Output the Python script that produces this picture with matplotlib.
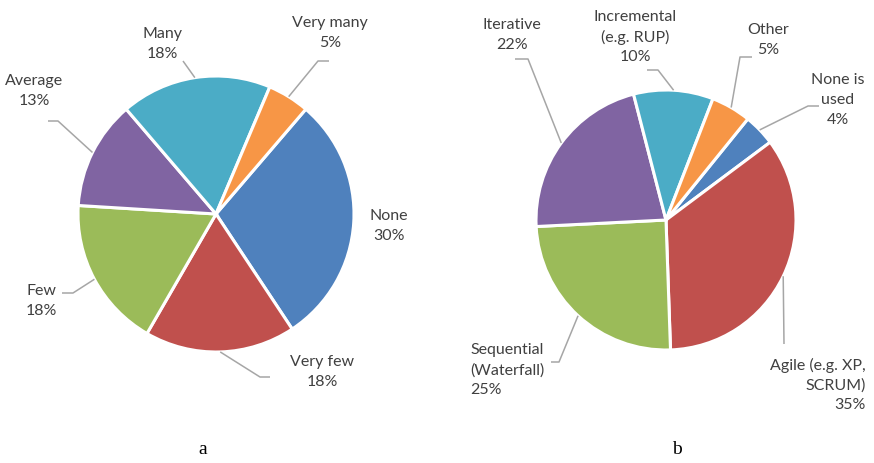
"""plot.py"""

import matplotlib
matplotlib.use("Agg")
import matplotlib.pyplot as plt
import numpy as np

W, H = 874, 463

# (a) amount of documentation
usage_labels = ["None", "Very few", "Few", "Average", "Many", "Very many"]
usage_values = [30, 18, 18, 13, 18, 5]

# (b) development process used
method_labels = ["None is\nused", "Agile (e.g. XP,\nSCRUM)", "Sequential\n(Waterfall)",
                 "Iterative", "Incremental\n(e.g. RUP)", "Other"]
method_values = [4, 35, 25, 22, 10, 5]

colors = ["#4F81BD", "#C0504D", "#9BBB59", "#8064A2", "#4BACC6", "#F79646"]

# label placement in pixels (top origin): text x, text y, alignment, leader elbows
usage_layout = [
    (389, 226, "center", []),
    (322, 372, "center", [(270, 377), (260, 377)]),
    (41, 301, "center", [(62, 293), (73, 293)]),
    (34, 91, "center", [(48, 121), (58, 121)]),
    (162, 44, "center", [(183, 61)]),
    (330, 33, "center", [(329, 61), (318, 61)]),
]
method_layout = [
    (838, 100, "center", [(819, 106), (808, 106)]),
    (866, 385, "right", [(784, 344)]),
    (470, 370, "left", [(551, 362), (559, 362)]),
    (512, 35, "center", [(515, 59), (528, 59)]),
    (635, 37, "center", [(647, 70), (658, 70)]),
    (768, 40, "center", [(752, 57), (740, 57)]),
]

TEXT = "#404040"
LEADER = "#A6A6A6"
FONT = "Lato"


def draw_pie(ax, values, labels, layout, center, radius, startangle):
    cx, cy = center[0], H - center[1]
    wedges, _ = ax.pie(values, colors=colors, startangle=startangle,
                       counterclock=False, center=(cx, cy), radius=radius,
                       wedgeprops=dict(edgecolor="white", linewidth=2.2))
    for wedge, name, val, (tx, ty, ha, elbows) in zip(wedges, labels, values, layout):
        ax.text(tx, H - ty, f"{name}\n{val}%", ha=ha, va="center",
                multialignment=ha, fontsize=11.5, color=TEXT, family=FONT,
                linespacing=1.5)
        if elbows:
            mid = np.deg2rad((wedge.theta1 + wedge.theta2) / 2)
            px = cx + radius * np.cos(mid)
            py = cy + radius * np.sin(mid)
            xs = [x for x, _ in elbows] + [px]
            ys = [H - y for _, y in elbows] + [py]
            ax.plot(xs, ys, color=LEADER, lw=1.1, solid_capstyle="butt")


fig = plt.figure(figsize=(W / 100, H / 100), dpi=100)
ax = fig.add_axes([0, 0, 1, 1])

draw_pie(ax, usage_values, usage_labels, usage_layout, (216, 214), 138, 49.4)
draw_pie(ax, method_values, method_labels, method_layout, (666, 220), 130, 51)

ax.text(203, H - 450, "a", ha="center", va="center", fontsize=14,
        family="Liberation Serif", color="black")
ax.text(677, H - 450, "b", ha="center", va="center", fontsize=14,
        family="Liberation Serif", color="black")

ax.set_xlim(0, W)
ax.set_ylim(0, H)
ax.set_aspect("equal")
ax.axis("off")

fig.savefig("out.png", dpi=100)
